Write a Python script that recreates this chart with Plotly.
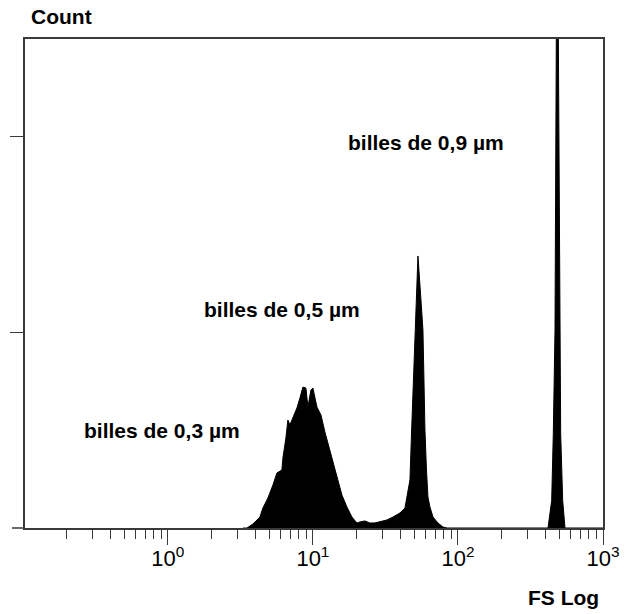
import plotly.graph_objects as go

# Forward-scatter (FS Log) histogram
fs_values = [3.3, 3.506, 3.857, 4.31, 4.521, 4.894, 5.30, 5.646, 6.112, 6.21, 6.513, 6.723,
             6.94, 7.278, 7.756, 8.135, 8.531, 8.948, 9.237, 9.687, 10.0, 10.66, 11.36,
             12.10, 12.69, 13.52, 14.64, 15.85, 17.16, 18.58, 20.11, 21.10, 22.84, 24.73,
             26.77, 28.98, 32.38, 35.62, 39.81, 43.10, 45.21, 46.67, 47.94, 49.33, 50.51,
             52.99, 55.58, 57.37, 58.29, 59.21, 60.67, 62.11, 64.12, 67.26, 72.81, 78.83,
             83.99, 417.6, 442.8, 454.2, 466.7, 474.2, 481.8, 489.5, 501.2, 510.8, 527.4,
             546.9, 1000]
counts = [0, 0, 2.0, 5.6, 10.2, 15.3, 21.9, 28.1, 29.6, 35.7, 45.9, 55.1,
          52.6, 56.6, 61.2, 66.3, 71.9, 71.4, 61.7, 70.4, 71.4, 61.7, 57.7,
          49.0, 43.4, 35.7, 27.0, 16.8, 10.7, 5.6, 2.55, 3.1, 3.6, 2.55,
          2.6, 3.1, 4.1, 5.6, 7.7, 10.2, 17.9, 24.5, 50, 75.5, 101,
          138.8, 116.3, 101, 75.5, 50, 29.6, 15.8, 10.7, 5.6, 2.55, 0.5,
          0, 0, 14, 48, 101, 280, 330, 280, 101, 48, 14,
          0, 0]

major_ticks = [1, 10, 100, 1000]
major_labels = ["10<sup>0</sup>", "10<sup>1</sup>", "10<sup>2</sup>", "10<sup>3</sup>"]
minor_ticks = [m * d for d in [0.1, 1, 10, 100] for m in range(2, 10)]
y_ticks = [100, 200]

bead_labels = ["billes de 0,3 µm", "billes de 0,5 µm", "billes de 0,9 µm"]
bead_pos = [(0.0986, 0.200), (0.3062, 0.446), (0.5554, 0.789)]

FONT = "Liberation Sans Narrow, Arial Narrow, Liberation Sans, Arial, sans-serif"
AX = "#3a3a3a"
LABEL_SIZE = 21

fig = go.Figure()
fig.add_trace(go.Scatter(
    x=fs_values, y=counts, mode="lines", fill="tozeroy",
    fillcolor="black", line=dict(color="black", width=1), hoverinfo="skip",
))

fig.update_layout(
    width=639, height=614,
    margin=dict(l=25, r=36, t=39, b=86),
    paper_bgcolor="white", plot_bgcolor="white",
    showlegend=False,
    font=dict(family=FONT, color="black"),
)
fig.update_xaxes(
    type="log", range=[-0.985, 3.0],
    showgrid=False, zeroline=False,
    showline=True, linecolor=AX, linewidth=1.5, mirror=True,
    tickmode="array", tickvals=major_ticks, ticktext=major_labels,
    ticks="outside", ticklen=15, tickwidth=1.3, tickcolor=AX,
    ticklabelstandoff=-5,
    tickfont=dict(family=FONT, size=22, color="black"),
    minor=dict(tickmode="array", tickvals=minor_ticks, ticks="outside",
               ticklen=9, tickwidth=1.3, tickcolor=AX),
)
fig.update_yaxes(
    range=[0, 249.5],
    showgrid=False, zeroline=False,
    showline=True, linecolor=AX, linewidth=1.5, mirror=True,
    tickmode="array", tickvals=y_ticks, showticklabels=False,
    ticks="outside", ticklen=13, tickwidth=1.3, tickcolor=AX,
)

# x axis line extends left of the frame
fig.add_shape(type="line", xref="paper", yref="paper", x0=-0.0225, x1=0, y0=0, y1=0,
              line=dict(color=AX, width=1.5))

fig.add_annotation(text="<b>Count</b>", xref="paper", yref="paper", x=0.007, y=1.047,
                   xanchor="left", yanchor="middle", showarrow=False,
                   font=dict(family=FONT, size=LABEL_SIZE, color="black"))
fig.add_annotation(text="<b>FS Log</b>", xref="paper", yref="paper", x=0.9325, y=-0.143,
                   xanchor="center", yanchor="middle", showarrow=False,
                   font=dict(family=FONT, size=LABEL_SIZE, color="black"))
for txt, (px, py) in zip(bead_labels, bead_pos):
    fig.add_annotation(text="<b>" + txt + "</b>", xref="paper", yref="paper", x=px, y=py,
                       xanchor="left", yanchor="middle", showarrow=False,
                       font=dict(family=FONT, size=LABEL_SIZE, color="black"))

fig.write_html("out.html")
